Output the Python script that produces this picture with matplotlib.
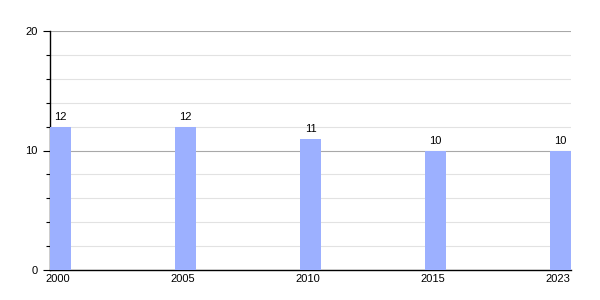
import matplotlib.pyplot as plt
from matplotlib.ticker import MultipleLocator

anios = ['2000', '2005', '2010', '2015', '2023']
valores = [12, 12, 11, 10, 10]

plt.rcParams['font.family'] = ['Liberation Sans', 'DejaVu Sans']

fig = plt.figure(figsize=(6, 3), dpi=100)
ax = fig.add_axes([50 / 600, 30 / 300, 521 / 600, 239 / 300])

ancho = 0.168
pos = list(range(len(anios)))
ax.bar(pos, valores, width=ancho, align='edge', color='#9cb0ff', zorder=3)
for x, v in zip(pos, valores):
    ax.text(x + ancho / 2, v + 0.35, str(v), ha='center', va='bottom', fontsize=8)

ax.set_xlim(0, len(anios) - 1 + ancho)
ax.set_ylim(0, 20)
ax.set_xticks([p + ancho / 2 - 0.02 for p in pos])
ax.set_xticklabels(anios, fontsize=8)
ax.tick_params(axis='x', length=0, pad=3)

ax.yaxis.set_major_locator(MultipleLocator(10))
ax.yaxis.set_minor_locator(MultipleLocator(2))
ax.tick_params(axis='y', which='major', length=5, width=0.8, labelsize=8, pad=4)
ax.tick_params(axis='y', which='minor', length=3, width=0.8)
ax.grid(axis='y', which='major', color='#a8a8a8', linewidth=0.8, zorder=0)
ax.grid(axis='y', which='minor', color='#e2e2e2', linewidth=0.8, zorder=0)

for s in ['top', 'right']:
    ax.spines[s].set_visible(False)
ax.spines['left'].set_linewidth(1)
ax.spines['bottom'].set_linewidth(1)

fig.savefig('out.png', dpi=100)
